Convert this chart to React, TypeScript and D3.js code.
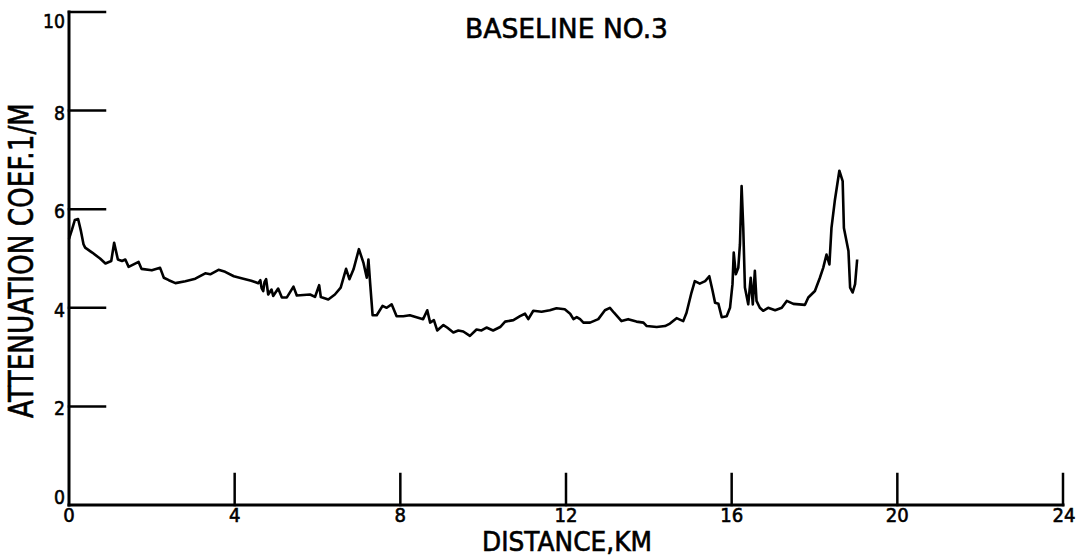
import React from "react";
import * as d3 from "d3";

const TITLE = "BASELINE NO.3";
const X_LABEL = "DISTANCE,KM";
const Y_LABEL = "ATTENUATION COEF.1/M";

const xTicks = [0, 4, 8, 12, 16, 20, 24];
const yTicks = [0, 2, 4, 6, 8, 10];

const distanceKm = [
  0.0, 0.07, 0.14, 0.22, 0.29, 0.35, 0.39, 0.56, 0.75, 0.88, 1.02, 1.09, 1.18, 1.28, 1.36, 1.44, 1.56,
  1.68, 1.75, 2.0, 2.2, 2.29, 2.41, 2.57, 2.81, 3.05, 3.29, 3.41, 3.61, 3.77, 3.98, 4.21, 4.4, 4.57,
  4.62, 4.65, 4.69, 4.72, 4.76, 4.81, 4.89, 4.93, 5.05, 5.14, 5.26, 5.42, 5.5, 5.82, 5.94, 6.04, 6.08,
  6.26, 6.42, 6.56, 6.69, 6.77, 6.87, 7.0, 7.11, 7.19, 7.23, 7.27, 7.33, 7.43, 7.57, 7.67, 7.79, 7.91,
  8.07, 8.23, 8.39, 8.55, 8.65, 8.72, 8.81, 8.89, 9.04, 9.13, 9.28, 9.4, 9.52, 9.68, 9.84, 9.96, 10.08,
  10.24, 10.41, 10.53, 10.73, 10.89, 11.01, 11.09, 11.21, 11.41, 11.61, 11.77, 11.97, 12.1, 12.18,
  12.26, 12.34, 12.42, 12.58, 12.78, 12.94, 13.06, 13.16, 13.34, 13.5, 13.7, 13.87, 13.95, 14.19,
  14.39, 14.51, 14.67, 14.83, 14.91, 15.03, 15.11, 15.23, 15.36, 15.46, 15.54, 15.6, 15.68, 15.76,
  15.88, 15.96, 16.02, 16.05, 16.1, 16.16, 16.2, 16.24, 16.28, 16.32, 16.4, 16.46, 16.51, 16.56, 16.6,
  16.68, 16.76, 16.88, 17.05, 17.21, 17.33, 17.49, 17.77, 17.85, 18.01, 18.13, 18.21, 18.29, 18.36,
  18.41, 18.49, 18.6, 18.68, 18.71, 18.82, 18.86, 18.92, 18.98, 19.03,
];

const attenuation = [
  5.4, 5.58, 5.78, 5.8, 5.55, 5.29, 5.22, 5.12, 5.0, 4.9, 4.95, 5.32, 4.98, 4.95, 4.98, 4.83, 4.88,
  4.93, 4.79, 4.76, 4.81, 4.61, 4.56, 4.5, 4.54, 4.59, 4.7, 4.68, 4.77, 4.73, 4.64, 4.59, 4.55, 4.5,
  4.56, 4.4, 4.34, 4.52, 4.58, 4.27, 4.37, 4.24, 4.39, 4.21, 4.21, 4.43, 4.25, 4.27, 4.22, 4.46, 4.22,
  4.17, 4.27, 4.41, 4.79, 4.58, 4.78, 5.19, 4.91, 4.61, 4.98, 4.51, 3.85, 3.85, 4.04, 4.0, 4.07, 3.83,
  3.83, 3.85, 3.81, 3.77, 3.95, 3.7, 3.75, 3.54, 3.65, 3.6, 3.5, 3.54, 3.52, 3.43, 3.56, 3.54, 3.6,
  3.54, 3.61, 3.72, 3.75, 3.83, 3.88, 3.77, 3.94, 3.92, 3.95, 3.99, 3.97, 3.88, 3.77,
  3.81, 3.77, 3.7, 3.7, 3.77, 3.95, 4.0, 3.9, 3.73, 3.77, 3.72, 3.7, 3.63, 3.61,
  3.63, 3.68, 3.79, 3.73, 3.9, 4.31, 4.54, 4.49, 4.54, 4.64, 4.34, 4.1, 4.08, 3.81,
  3.83, 4.0, 4.48, 5.12, 4.68, 4.81, 5.29, 6.47, 5.62, 4.41, 4.07, 4.61, 4.07, 4.75, 4.14,
  4.0, 3.94, 4.0, 3.95, 4.0, 4.14, 4.08, 4.06, 4.21, 4.34, 4.61, 4.81, 5.08, 4.88,
  5.62, 6.17, 6.78, 6.57, 5.62, 5.15, 4.41, 4.31, 4.48, 4.98,
];

const W = 1077;
const H = 558;
const FONT = "'DejaVu Sans', sans-serif";

export default function App() {
  const x = d3.scaleLinear().domain([0, 24]).range([69, 1063]);
  const y = d3.scaleLinear().domain([0, 10]).range([505, 12]);

  const pts = distanceKm.map((d, i) => [d, attenuation[i]] as [number, number]);
  const line = d3
    .line<[number, number]>()
    .x((d) => x(d[0]))
    .y((d) => y(d[1]))
    .curve(d3.curveLinear);

  const x0 = x(0);
  const y0 = y(0);

  const yLabelOffset = (v: number) => (v === 10 ? 16 : v === 0 ? -1 : 9);

  return (
    <svg
      width={W}
      height={H}
      style={{ position: "absolute", left: 0, top: 0, background: "#fff" }}
    >
      <rect x={0} y={0} width={W} height={H} fill="#fff" />
      {/* axes */}
      <g stroke="#000" strokeWidth={3} fill="none" strokeLinecap="square">
        <line x1={x0} y1={y(10)} x2={x0} y2={y0} />
        <line x1={x0} y1={y0} x2={x(24)} y2={y0} />
        {yTicks
          .filter((v) => v > 0)
          .map((v) => (
            <line key={"yt" + v} x1={x0} y1={y(v)} x2={x0 + 36} y2={y(v)} strokeWidth={2.5} />
          ))}
        {xTicks
          .filter((v) => v > 0)
          .map((v) => (
            <line key={"xt" + v} x1={x(v)} y1={y0} x2={x(v)} y2={y0 - 31} strokeWidth={2.5} />
          ))}
      </g>
      {/* tick labels */}
      <g fontFamily={FONT} fontSize={19} fill="#000" stroke="#000" strokeWidth={0.6}>
        {yTicks.map((v) => {
          const s = String(v);
          return (
            <text
              key={"yl" + v}
              x={65}
              y={y(v) + yLabelOffset(v)}
              textAnchor="end"
              fontSize={20}
              textLength={s.length * 11}
              lengthAdjust="spacingAndGlyphs"
            >
              {s}
            </text>
          );
        })}
        {xTicks.map((v) => {
          const s = String(v);
          return (
            <text
              key={"xl" + v}
              x={x(v) + (v === 24 ? 1 : 0)}
              y={522}
              textAnchor="middle"
              textLength={s.length * 11.5}
              lengthAdjust="spacingAndGlyphs"
            >
              {s}
            </text>
          );
        })}
      </g>
      {/* titles */}
      <g fontFamily={FONT} fill="#000" stroke="#000" strokeWidth={0.6}>
        <text x={465} y={38} fontSize={27} textLength={203} lengthAdjust="spacingAndGlyphs">
          {TITLE}
        </text>
        <text x={482} y={551} fontSize={26} textLength={170} lengthAdjust="spacingAndGlyphs">
          {X_LABEL}
        </text>
        <text
          transform={`translate(33, 418) rotate(-90)`}
          x={0}
          y={0}
          fontSize={33}
          textLength={315}
          lengthAdjust="spacingAndGlyphs"
        >
          {Y_LABEL}
        </text>
      </g>
      {/* data line */}
      <path d={line(pts) || ""} fill="none" stroke="#000" strokeWidth={2.6} strokeLinejoin="round" />
    </svg>
  );
}
